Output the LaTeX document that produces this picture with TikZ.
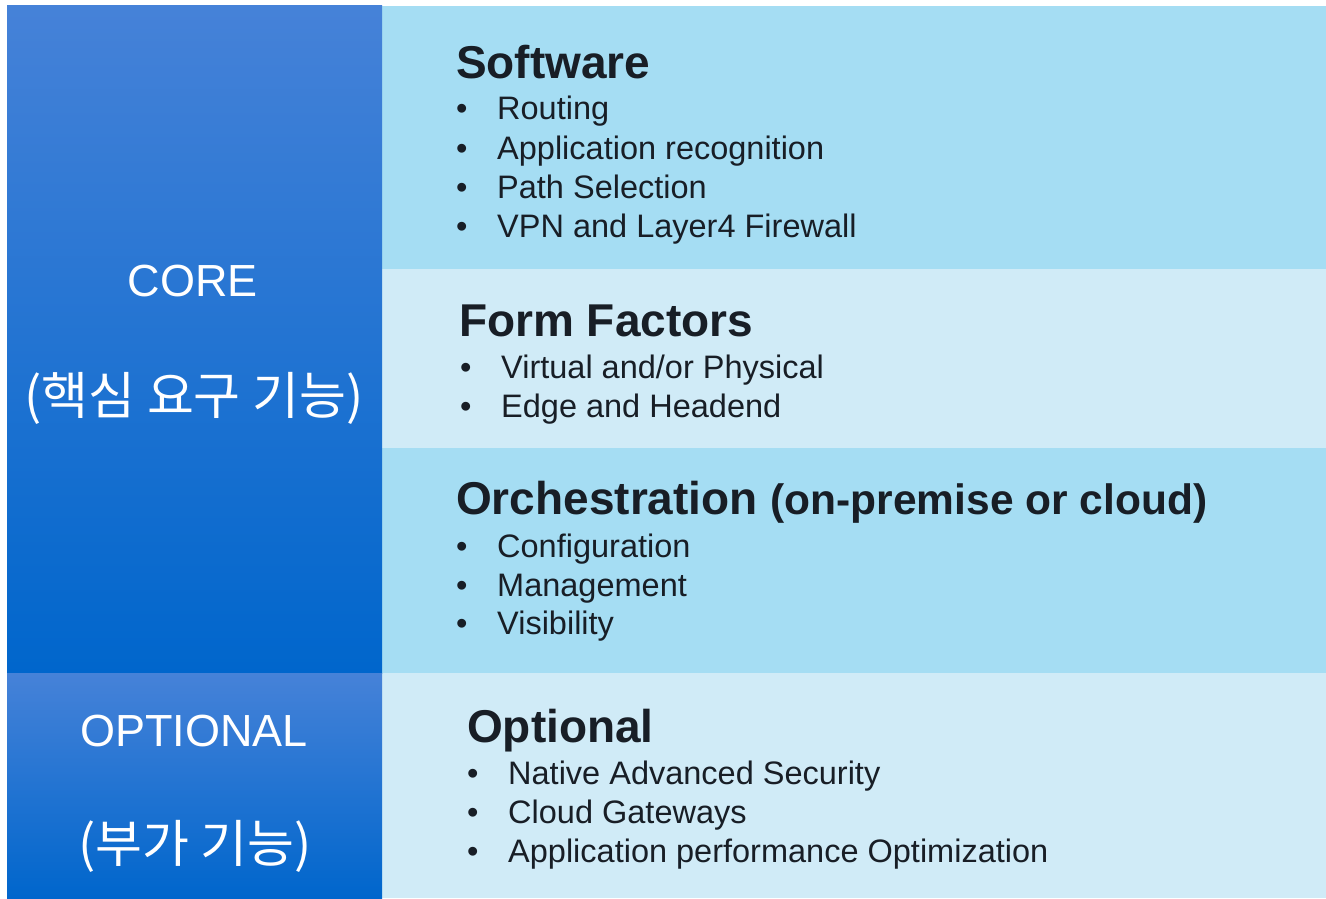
\documentclass[tikz,border=0pt]{standalone}
\usepackage{fontspec}
\setmainfont{Liberation Sans}
\newfontfamily\kr{Noto Sans CJK KR}
\definecolor{bandA}{RGB}{165,221,243}
\definecolor{bandB}{RGB}{208,235,247}
\definecolor{gtop}{RGB}{70,130,216}
\definecolor{gmid}{RGB}{16,118,216}
\definecolor{gbot}{RGB}{0,102,204}
\definecolor{ink}{RGB}{24,30,38}
\tikzset{
  band/.style={draw=none},
  side/.style={draw=none, top color=gtop, middle color=gmid, bottom color=gbot},
  head/.style={anchor=base west, inner sep=0pt, text=ink, font=\fontsize{46}{50}\selectfont\bfseries},
  itm/.style={anchor=base west, inner sep=0pt, text=ink, font=\fontsize{32.5}{36}\selectfont},
  lbl/.style={anchor=base, inner sep=0pt, text=white, font=\fontsize{45}{50}\selectfont},
  krlbl/.style={anchor=base, inner sep=0pt, text=white, font=\fontsize{51}{56}\selectfont\kr}
}
\newcommand{\bl}[1]{\makebox[41pt][l]{\textbullet}#1}
\begin{document}
\begin{tikzpicture}[x=1pt,y=-1pt]
\useasboundingbox (0,0) rectangle (1326,898);
\fill[white] (0,0) rectangle (1326,898);
% right bands
\fill[band, bandA] (382,6) rectangle (1326,269);
\fill[band, bandB] (382,269) rectangle (1326,448);
\fill[band, bandA] (382,448) rectangle (1326,673);
\fill[band, bandB] (382,673) rectangle (1326,898);
% left panels
\path[side] (7,5) rectangle (382,673);
\path[side] (7,673) rectangle (382,898);
% left labels
\node[lbl] (core) at (193,296) {CORE};
\node[krlbl] (corekr) at (194,414) {(핵심 요구 기능)};
\node[lbl] (opt) at (194,746) {OPTIONAL};
\node[krlbl] (optkr) at (195,862) {(부가 기능)};
% Software
\node[head] (sw) at (456,78) {Software};
\node[itm] (sw1) at (456,119) {\bl{Routing}};
\node[itm] (sw2) at (456,159) {\bl{Application recognition}};
\node[itm] (sw3) at (456,198) {\bl{Path Selection}};
\node[itm] (sw4) at (456,237) {\bl{VPN and Layer4 Firewall}};
% Form Factors
\node[head] (ff) at (459,336) {Form Factors};
\node[itm] (ff1) at (460,378) {\bl{Virtual and/or Physical}};
\node[itm] (ff2) at (460,417) {\bl{Edge and Headend}};
% Orchestration
\node[head] (or) at (456,514) {Orchestration {\fontsize{42.5}{46}\selectfont (on-premise or cloud)}};
\node[itm] (or1) at (456,557) {\bl{Configuration}};
\node[itm] (or2) at (456,596) {\bl{Management}};
\node[itm] (or3) at (456,634) {\bl{Visibility}};
% Optional
\node[head] (op) at (467,742) {Optional};
\node[itm] (op1) at (467,784) {\bl{Native Advanced Security}};
\node[itm] (op2) at (467,823) {\bl{Cloud Gateways}};
\node[itm] (op3) at (467,862) {\bl{Application performance Optimization}};
\end{tikzpicture}
\end{document}
